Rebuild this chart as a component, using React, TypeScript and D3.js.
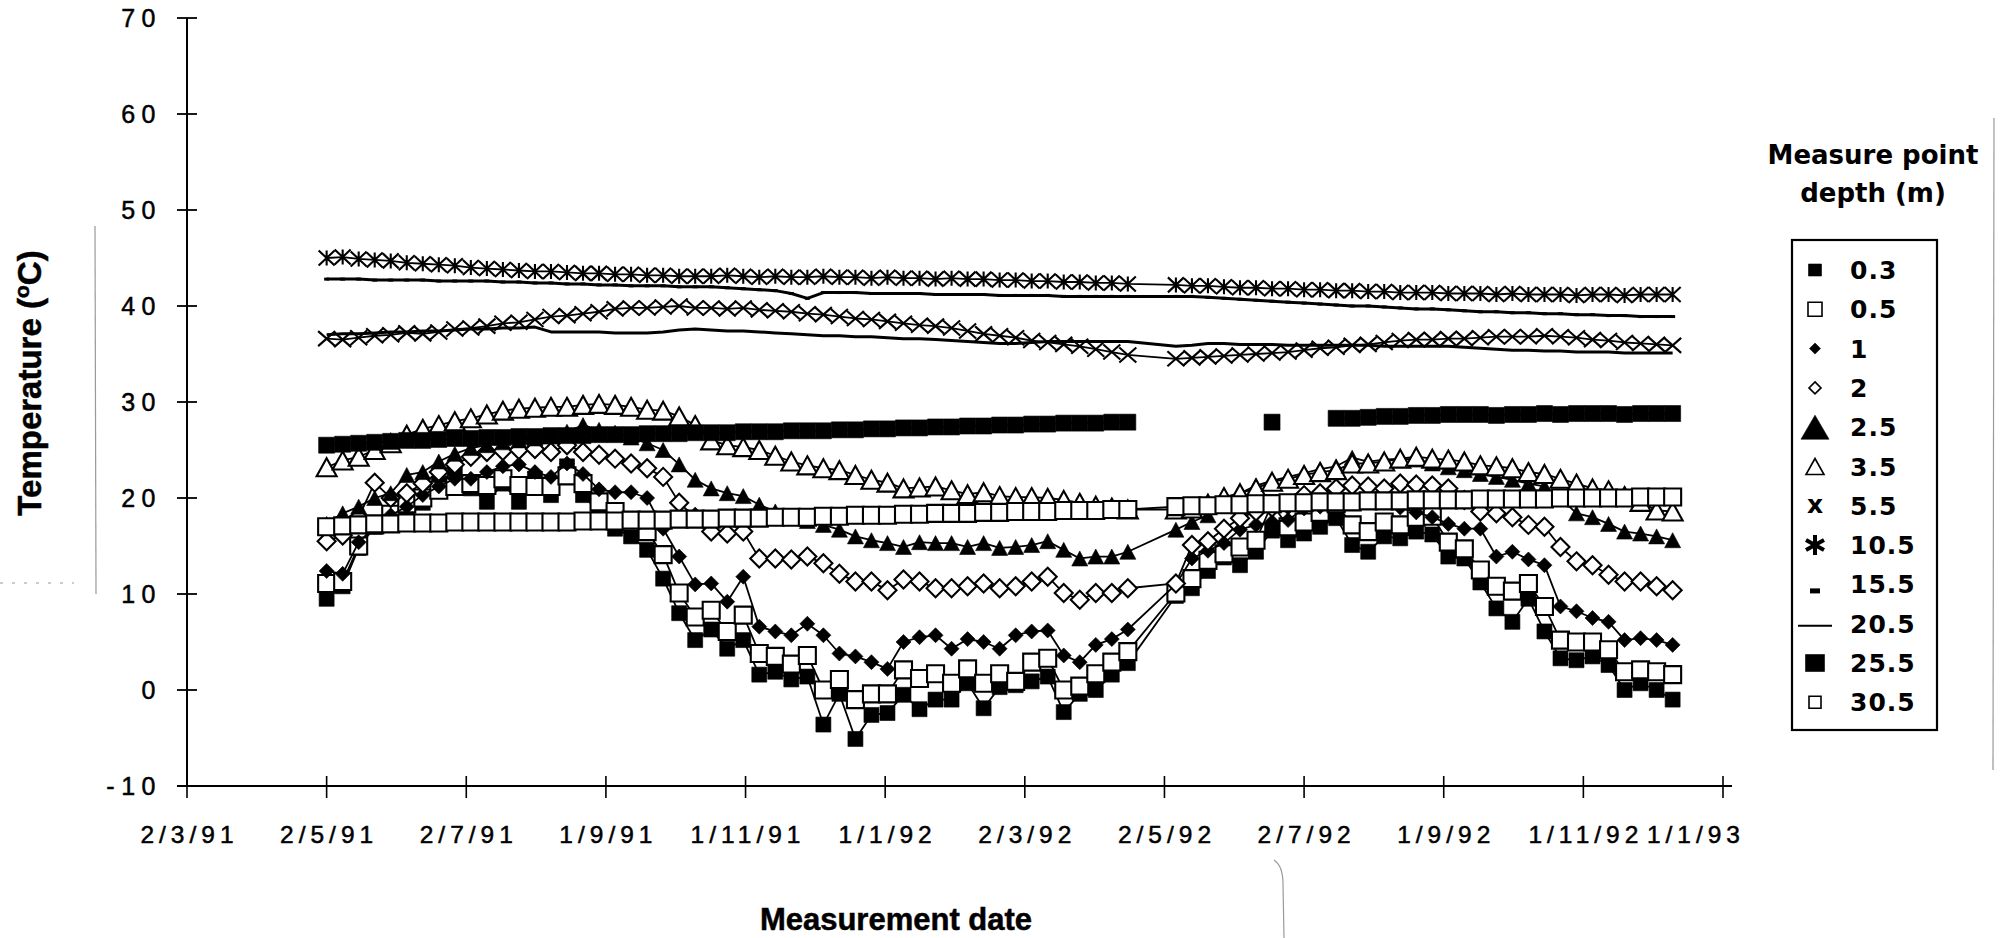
import React from "react";
import * as d3 from "d3";

// Weekly reading dates (no readings on 23 and 30 April 1992)
const measureDates: string[] = [
  "1991-05-02", "1991-05-09", "1991-05-16", "1991-05-23", "1991-05-30",
  "1991-06-06", "1991-06-13", "1991-06-20", "1991-06-27",
  "1991-07-04", "1991-07-11", "1991-07-18", "1991-07-25",
  "1991-08-01", "1991-08-08", "1991-08-15", "1991-08-22", "1991-08-29",
  "1991-09-05", "1991-09-12", "1991-09-19", "1991-09-26",
  "1991-10-03", "1991-10-10", "1991-10-17", "1991-10-24", "1991-10-31",
  "1991-11-07", "1991-11-14", "1991-11-21", "1991-11-28",
  "1991-12-05", "1991-12-12", "1991-12-19", "1991-12-26",
  "1992-01-02", "1992-01-09", "1992-01-16", "1992-01-23", "1992-01-30",
  "1992-02-06", "1992-02-13", "1992-02-20", "1992-02-27",
  "1992-03-05", "1992-03-12", "1992-03-19", "1992-03-26",
  "1992-04-02", "1992-04-09", "1992-04-16",
  "1992-05-07", "1992-05-14", "1992-05-21", "1992-05-28",
  "1992-06-04", "1992-06-11", "1992-06-18", "1992-06-25",
  "1992-07-02", "1992-07-09", "1992-07-16", "1992-07-23", "1992-07-30",
  "1992-08-06", "1992-08-13", "1992-08-20", "1992-08-27",
  "1992-09-03", "1992-09-10", "1992-09-17", "1992-09-24",
  "1992-10-01", "1992-10-08", "1992-10-15", "1992-10-22", "1992-10-29",
  "1992-11-05", "1992-11-12", "1992-11-19", "1992-11-26",
  "1992-12-03", "1992-12-10",
];

// Temperatures (°C) per measure point depth
const depth03 = [
  9.5, 10.8, 14.8, 17.0, 18.0, 18.8, 19.5, 21.5, 23.0, 21.0,
  19.6, 21.5, 19.6, 22.0, 20.3, 23.3, 20.3, 18.5, 16.8, 16.0,
  14.6, 11.6, 8.0, 5.2, 6.3, 4.3, 5.2, 1.6, 1.9, 1.1,
  1.4, -3.6, -0.4, -5.1, -2.6, -2.4, -0.5, -2.0, -1.0, -1.0,
  0.7, -1.9, 0.3, 0.5, 0.9, 1.4, -2.3, -0.4, 0.0, 1.6,
  2.8,
  9.8, 10.6, 12.4, 13.8, 13.0, 14.4, 16.6, 15.6, 16.3,
  17.0, 17.9, 15.1, 14.4, 16.0, 15.8, 16.5, 16.2, 13.9, 13.7,
  11.2, 8.5, 7.1, 9.5, 6.1, 3.3, 3.1, 3.5, 2.6, 0.0,
  0.7, 0.0, -1.0,
];

const depth05 = [
  11.1, 11.3, 15.0, 17.2, 18.3, 19.4, 20.0, 20.8, 21.2, 21.5,
  21.3, 22.0, 21.3, 21.2, 21.2, 22.3, 21.5, 19.6, 18.6, 17.5,
  16.5, 14.1, 10.1, 7.6, 8.3, 6.1, 7.8, 3.8, 3.5, 2.7,
  3.6, 0.0, 1.1, -1.0, -0.4, -0.4, 2.1, 1.2, 1.7, 0.7,
  2.2, 0.7, 1.7, 0.9, 2.9, 3.3, 0.0, 0.4, 1.7, 2.9,
  4.0,
  10.1, 11.6, 13.5, 14.2, 14.9, 15.6, 19.4, 17.0, 17.5,
  18.5, 19.4, 17.2, 16.5, 17.5, 17.2, 18.0, 18.1, 15.4, 14.7,
  12.5, 10.8, 10.3, 11.1, 8.7, 5.2, 5.0, 5.0, 4.2, 1.9,
  2.1, 1.9, 1.6,
];

const depth1 = [
  12.4, 12.1, 15.4, 17.0, 18.2, 19.1, 20.3, 21.2, 22.0, 22.0,
  22.7, 23.3, 23.5, 22.7, 22.2, 23.6, 22.5, 20.9, 20.6, 20.6,
  20.0, 16.8, 13.9, 11.0, 11.1, 9.2, 11.8, 6.6, 6.1, 5.7,
  6.9, 5.7, 3.8, 3.5, 2.9, 2.2, 5.0, 5.5, 5.7, 4.3,
  5.3, 5.0, 4.3, 5.7, 6.1, 6.2, 3.6, 2.9, 4.7, 5.3,
  6.3,
  11.0, 13.7, 14.5, 15.3, 16.7, 17.2, 17.5, 17.7, 18.9,
  19.1, 19.5, 19.8, 20.0, 19.6, 19.0, 18.5, 18.0, 17.3, 16.8,
  16.8, 13.9, 14.4, 13.6, 13.0, 8.7, 8.2, 7.5, 7.1, 5.2,
  5.4, 5.2, 4.7,
];

const depth2 = [
  15.5, 16.1, 18.0, 21.6, 20.0, 20.5, 21.5, 22.7, 23.5, 24.3,
  24.8, 24.9, 25.0, 25.1, 24.8, 25.5, 24.8, 24.5, 24.1, 23.6,
  23.1, 22.2, 19.5, 18.0, 16.5, 16.3, 16.5, 13.7, 13.7, 13.6,
  13.9, 13.2, 12.1, 11.3, 11.3, 10.4, 11.5, 11.3, 10.6, 10.6,
  10.8, 11.1, 10.6, 10.8, 11.3, 11.8, 10.1, 9.4, 10.1, 10.1,
  10.6,
  11.1, 15.1, 15.5, 16.8, 17.9, 18.6, 19.0, 19.3, 20.3,
  20.5, 21.0, 21.3, 21.2, 21.0, 21.5, 21.4, 21.3, 21.0, 19.8,
  18.6, 18.4, 18.0, 17.2, 17.0, 14.9, 13.4, 13.0, 12.0, 11.3,
  11.3, 10.8, 10.4,
];

const depth25 = [
  17.3, 18.4, 19.1, 20.0, 20.5, 22.4, 22.7, 23.8, 24.6, 25.2,
  25.5, 25.8, 26.0, 26.2, 26.4, 26.9, 27.6, 27.1, 26.8, 26.3,
  25.7, 25.0, 23.5, 21.9, 21.0, 20.5, 20.2, 19.3, 18.6, 18.0,
  17.6, 17.2, 16.7, 16.0, 15.6, 15.3, 14.9, 15.4, 15.3, 15.3,
  14.9, 15.3, 14.8, 14.9, 15.1, 15.5, 14.6, 13.7, 13.9, 13.9,
  14.4,
  16.7, 17.5, 18.2, 19.5, 20.5, 21.3, 21.8, 22.2, 22.6,
  23.0, 23.3, 24.2, 23.8, 24.0, 24.1, 24.0, 23.6, 23.2, 22.9,
  22.5, 22.2, 21.9, 21.5, 21.2, 20.0, 18.4, 18.0, 17.3, 16.5,
  16.3, 16.0, 15.6,
];

const depth35 = [
  23.2, 23.9, 24.3, 25.0, 25.7, 26.6, 27.2, 27.6, 28.0, 28.3,
  28.7, 29.1, 29.3, 29.4, 29.5, 29.5, 29.7, 29.8, 29.7, 29.5,
  29.2, 29.1, 28.5, 27.6, 26.0, 25.5, 25.3, 25.0, 24.4, 23.8,
  23.4, 23.1, 22.9, 22.4, 21.9, 21.6, 21.0, 21.1, 21.2, 20.8,
  20.4, 20.6, 20.2, 20.1, 20.1, 20.0, 19.8, 19.5, 19.2, 19.0,
  18.8,
  18.8, 18.9, 19.4, 20.1, 20.5, 21.0, 21.7, 22.0, 22.4,
  22.7, 22.9, 23.6, 23.6, 23.8, 24.1, 24.3, 24.1, 24.0, 23.8,
  23.4, 23.3, 23.1, 22.7, 22.5, 22.0, 21.5, 21.0, 20.8, 20.2,
  19.6, 18.7, 18.6,
];

const depth55 = [
  36.6, 36.5, 36.7, 36.9, 37.0, 37.2, 37.1, 37.3, 37.6, 37.7,
  37.9, 38.2, 38.3, 38.6, 38.9, 39.0, 39.2, 39.4, 39.7, 39.8,
  39.8, 39.9, 40.0, 39.8, 39.8, 39.7, 39.8, 39.6, 39.5, 39.4,
  39.2, 39.1, 38.9, 38.7, 38.6, 38.4, 38.2, 38.0, 37.9, 37.7,
  37.4, 37.1, 36.9, 36.7, 36.4, 36.2, 36.0, 35.8, 35.5, 35.2,
  34.9,
  34.5, 34.6, 34.7, 34.8, 34.9, 35.0, 35.1, 35.2, 35.4,
  35.6, 35.7, 35.9, 36.0, 36.2, 36.4, 36.5, 36.5, 36.6, 36.6,
  36.7, 36.8, 36.8, 36.8, 36.9, 36.8, 36.7, 36.5, 36.4, 36.2,
  36.1, 36.0, 35.9,
];

const depth105 = [
  45.0, 45.1, 44.9, 44.8, 44.7, 44.5, 44.4, 44.3, 44.2, 44.0,
  43.9, 43.8, 43.7, 43.6, 43.6, 43.5, 43.4, 43.4, 43.3, 43.3,
  43.2, 43.2, 43.1, 43.1, 43.1, 43.2, 43.1, 43.0, 43.1, 43.0,
  43.0, 43.1, 43.0, 43.0, 42.9, 43.0, 42.9, 42.9, 42.8, 42.9,
  42.8, 42.8, 42.7, 42.7, 42.6, 42.6, 42.5, 42.5, 42.4, 42.4,
  42.3,
  42.2, 42.1, 42.1, 42.0, 41.9, 41.9, 41.8, 41.8, 41.7,
  41.7, 41.6, 41.6, 41.5, 41.5, 41.4, 41.4, 41.4, 41.3, 41.3,
  41.3, 41.2, 41.3, 41.2, 41.2, 41.2, 41.1, 41.2, 41.2, 41.1,
  41.2, 41.2, 41.2,
];

const depth155 = [
  42.8, 42.8, 42.8, 42.7, 42.7, 42.7, 42.7, 42.6, 42.6, 42.6,
  42.6, 42.5, 42.5, 42.4, 42.4, 42.3, 42.3, 42.2, 42.2, 42.1,
  42.1, 42.1, 42.0, 42.0, 42.0, 41.9, 41.8, 41.7, 41.6, 41.3,
  40.8, 41.4, 41.4, 41.4, 41.3, 41.3, 41.3, 41.3, 41.2, 41.2,
  41.2, 41.2, 41.1, 41.1, 41.1, 41.1, 41.0, 41.0, 41.0, 41.0,
  41.0,
  41.0, 41.0, 40.9, 40.8, 40.7, 40.6, 40.5, 40.4, 40.3,
  40.2, 40.1, 40.0, 40.0, 39.9, 39.8, 39.7, 39.7, 39.6, 39.5,
  39.4, 39.4, 39.3, 39.3, 39.2, 39.2, 39.1, 39.1, 39.0, 39.0,
  38.9, 38.9, 38.9,
];

const depth205 = [
  37.0, 37.1, 37.1, 37.2, 37.3, 37.3, 37.4, 37.4, 37.5, 37.6,
  37.6, 37.7, 37.7, 37.8, 37.3, 37.3, 37.3, 37.3, 37.2, 37.2,
  37.2, 37.3, 37.5, 37.6, 37.5, 37.4, 37.4, 37.3, 37.2, 37.1,
  37.0, 36.9, 36.9, 36.8, 36.8, 36.7, 36.6, 36.6, 36.5, 36.4,
  36.3, 36.2, 36.1, 36.1, 36.2, 36.3, 36.3, 36.3, 36.3, 36.3,
  36.3,
  35.8, 35.9, 36.1, 36.1, 36.0, 36.0, 36.0, 35.9, 35.9,
  35.9, 35.9, 35.9, 35.9, 35.8, 35.8, 35.8, 35.8, 35.8, 35.7,
  35.6, 35.5, 35.4, 35.4, 35.3, 35.3, 35.2, 35.2, 35.2, 35.1,
  35.1, 35.1, 35.1,
];

const depth255: (number | null)[] = [
  25.5, 25.6, 25.7, 25.8, 25.9, 26.0, 26.0, 26.1, 26.2, 26.2,
  26.3, 26.3, 26.4, 26.4, 26.5, 26.5, 26.5, 26.6, 26.6, 26.6,
  26.7, 26.7, 26.7, 26.8, 26.8, 26.8, 26.9, 26.9, 26.9, 27.0,
  27.0, 27.0, 27.1, 27.1, 27.2, 27.2, 27.3, 27.3, 27.4, 27.4,
  27.5, 27.5, 27.6, 27.6, 27.7, 27.7, 27.8, 27.8, 27.8, 27.9,
  27.9,
  null, null, null, null, null, null, 27.9, null, null,
  null, 28.3, 28.3, 28.4, 28.5, 28.5, 28.6, 28.6, 28.7, 28.7,
  28.7, 28.6, 28.7, 28.7, 28.8, 28.7, 28.8, 28.8, 28.8, 28.7,
  28.8, 28.8, 28.8,
];

const depth305 = [
  17.0, 17.1, 17.2, 17.3, 17.3, 17.4, 17.4, 17.4, 17.5, 17.5,
  17.5, 17.5, 17.5, 17.5, 17.5, 17.5, 17.6, 17.6, 17.6, 17.7,
  17.7, 17.7, 17.8, 17.8, 17.8, 17.9, 17.9, 17.9, 18.0, 18.0,
  18.0, 18.1, 18.1, 18.2, 18.2, 18.2, 18.3, 18.3, 18.4, 18.4,
  18.4, 18.5, 18.5, 18.6, 18.6, 18.6, 18.7, 18.7, 18.7, 18.8,
  18.8,
  19.1, 19.2, 19.2, 19.3, 19.3, 19.4, 19.4, 19.5, 19.5,
  19.6, 19.6, 19.6, 19.7, 19.7, 19.7, 19.8, 19.8, 19.8, 19.8,
  19.9, 19.9, 19.9, 19.9, 19.9, 20.0, 20.0, 20.0, 20.0, 20.0,
  20.1, 20.1, 20.1,
];

// Axis ticks
const xTickDates = [
  "1991-03-02", "1991-05-02", "1991-07-02", "1991-09-01", "1991-11-01", "1992-01-01",
  "1992-03-02", "1992-05-02", "1992-07-02", "1992-09-01", "1992-11-01", "1993-01-01",
];
const xTickLabels = [
  "2/3/91", "2/5/91", "2/7/91", "1/9/91", "1/11/91", "1/1/92",
  "2/3/92", "2/5/92", "2/7/92", "1/9/92", "1/11/92", "1/1/93",
];
const yTicks = [-10, 0, 10, 20, 30, 40, 50, 60, 70];

type Kind = "sq" | "osq" | "dia" | "odia" | "tri" | "otri" | "x" | "ast" | "dash" | "none";

interface SeriesDef {
  label: string;
  values: (number | null)[];
  kind: Kind;
  w: number;
  h: number;
  lineWidth: number;
  legendKind: Kind | "xchar" | "line";
  lw: number;
  lh: number;
}

const seriesDefs: SeriesDef[] = [
  { label: "0.3", values: depth03, kind: "sq", w: 15, h: 15, lineWidth: 1.8, legendKind: "sq", lw: 13, lh: 12 },
  { label: "0.5", values: depth05, kind: "osq", w: 17, h: 17, lineWidth: 1.8, legendKind: "osq", lw: 14, lh: 14 },
  { label: "1", values: depth1, kind: "dia", w: 15, h: 15, lineWidth: 1.8, legendKind: "dia", lw: 11, lh: 11 },
  { label: "2", values: depth2, kind: "odia", w: 18, h: 18, lineWidth: 1.8, legendKind: "odia", lw: 12, lh: 12 },
  { label: "2.5", values: depth25, kind: "tri", w: 16, h: 15, lineWidth: 1.8, legendKind: "tri", lw: 28, lh: 24 },
  { label: "3.5", values: depth35, kind: "otri", w: 20, h: 18, lineWidth: 1.8, legendKind: "otri", lw: 18, lh: 16 },
  { label: "5.5", values: depth55, kind: "x", w: 17, h: 15, lineWidth: 1.8, legendKind: "xchar", lw: 0, lh: 0 },
  { label: "10.5", values: depth105, kind: "ast", w: 16, h: 15, lineWidth: 1.8, legendKind: "ast", lw: 20, lh: 20 },
  { label: "15.5", values: depth155, kind: "dash", w: 5, h: 0, lineWidth: 3, legendKind: "dash", lw: 10, lh: 5 },
  { label: "20.5", values: depth205, kind: "none", w: 0, h: 0, lineWidth: 3, legendKind: "line", lw: 34, lh: 0 },
  { label: "25.5", values: depth255, kind: "sq", w: 16, h: 16, lineWidth: 1.8, legendKind: "sq", lw: 19, lh: 17 },
  { label: "30.5", values: depth305, kind: "osq", w: 17, h: 17, lineWidth: 1.8, legendKind: "osq", lw: 12, lh: 12 },
];

const utc = (s: string) => new Date(s + "T00:00:00Z");

function markerPath(kind: string, w: number, h: number): string {
  const a = w / 2;
  const b = h / 2;
  switch (kind) {
    case "sq":
    case "osq":
      return `M${-a},${-b}H${a}V${b}H${-a}Z`;
    case "dia":
    case "odia":
      return `M0,${-b}L${a},0L0,${b}L${-a},0Z`;
    case "tri":
    case "otri":
      return `M0,${-b}L${a},${b}L${-a},${b}Z`;
    case "x":
      return `M${-a},${-b}L${a},${b}M${-a},${b}L${a},${-b}`;
    case "ast":
      return `M${-a},${-b}L${a},${b}M${-a},${b}L${a},${-b}M0,${-b}V${b}`;
    case "dash":
      return `M${-a},0H${a}`;
    default:
      return "";
  }
}

function markerStyle(kind: string, sw = 2) {
  if (kind === "sq" || kind === "dia" || kind === "tri") return { fill: "#000", stroke: "#000", strokeWidth: 0.6 };
  if (kind === "osq" || kind === "odia" || kind === "otri") return { fill: "#fff", stroke: "#000", strokeWidth: sw };
  return { fill: "none", stroke: "#000", strokeWidth: sw };
}

const FONT = "'Liberation Sans', Arial, Helvetica, sans-serif";
const LEGEND_FONT = "'DejaVu Sans', Verdana, sans-serif";

export default function App() {
  const dates = measureDates.map(utc);
  const x = d3.scaleUtc().domain([utc("1991-03-02"), utc("1993-01-01")]).range([187, 1723]);
  const y = d3.scaleLinear().domain([-10, 70]).range([786, 18]);

  const line = d3
    .line<{ d: Date; v: number | null }>()
    .defined((p) => p.v != null)
    .x((p) => x(p.d))
    .y((p) => y(p.v as number));

  const legendX = 1815;
  const legendY0 = 270;
  const legendStep = 39.3;
  const lastTick = xTickDates.length - 1;

  return (
    <svg
      width={2011}
      height={938}
      style={{ position: "absolute", left: 0, top: 0, background: "#fff" }}
    >
      <rect x={0} y={0} width={2011} height={938} fill="#fff" />

      {/* faint page marks */}
      <g stroke="#9a9a9a" strokeWidth={1.2} fill="none">
        <line x1={95} y1={226} x2={96} y2={594} />
        <line x1={1994} y1={118} x2={1993} y2={770} />
        <path d="M1274,860 Q1283,866 1283,884 L1284,938" />
        <path d="M0,583 H74" strokeDasharray="3 9" />
      </g>

      {/* series */}
      {seriesDefs.map((s) => {
        const pts = s.values.map((v, i) => ({ d: dates[i], v }));
        return (
          <g key={s.label}>
            <path d={line(pts) || ""} fill="none" stroke="#000" strokeWidth={s.lineWidth} strokeLinejoin="round" />
            {s.kind !== "none" &&
              pts
                .filter((p) => p.v != null)
                .map((p, i) => (
                  <path
                    key={i}
                    transform={`translate(${x(p.d)},${y(p.v as number)})`}
                    d={markerPath(s.kind, s.w, s.h)}
                    {...markerStyle(s.kind, s.kind === "dash" ? 3 : 2.1)}
                  />
                ))}
          </g>
        );
      })}

      {/* y axis */}
      <g stroke="#000">
        <line x1={187} y1={y(70)} x2={187} y2={y(-10)} strokeWidth={2} />
        {yTicks.map((t) => (
          <line key={t} x1={177} x2={197} y1={y(t)} y2={y(t)} strokeWidth={1.8} />
        ))}
      </g>
      {yTicks.map((t) => (
        <text
          key={t}
          x={162}
          y={y(t)}
          dy="0.36em"
          textAnchor="end"
          fontFamily={FONT}
          fontSize={25}
          letterSpacing={6.5}
          fill="#000"
          stroke="#000"
          strokeWidth={0.5}
        >
          {String(t)}
        </text>
      ))}

      {/* x axis */}
      <g stroke="#000">
        <line x1={177} y1={y(-10)} x2={1732} y2={y(-10)} strokeWidth={2} />
        {xTickDates.map((t) => (
          <line key={t} x1={x(utc(t))} x2={x(utc(t))} y1={776} y2={798} strokeWidth={1.6} />
        ))}
      </g>
      {xTickDates.map((t, i) => (
        <text
          key={t}
          x={i === lastTick ? 1745 : x(utc(t)) + 2.5}
          y={843}
          textAnchor={i === lastTick ? "end" : "middle"}
          fontFamily={FONT}
          fontSize={24.5}
          letterSpacing={5}
          fill="#000"
          stroke="#000"
          strokeWidth={0.5}
        >
          {xTickLabels[i]}
        </text>
      ))}

      {/* axis titles */}
      <text
        transform="translate(41,383) rotate(-90)"
        textAnchor="middle"
        fontFamily={FONT}
        fontWeight="bold"
        fontSize={33}
        fill="#000"
        stroke="#000"
        strokeWidth={0.5}
      >
        Temperature (<tspan dy={-12} fontSize={21}>o</tspan>
        <tspan dy={12}>C)</tspan>
      </text>
      <text
        x={896}
        y={930}
        textAnchor="middle"
        fontFamily={FONT}
        fontWeight="bold"
        fontSize={31}
        fill="#000"
        stroke="#000"
        strokeWidth={0.5}
      >
        Measurement date
      </text>

      {/* legend */}
      <text x={1873} y={164} textAnchor="middle" fontFamily={LEGEND_FONT} fontWeight="bold" fontSize={26} fill="#000">
        Measure point
      </text>
      <text x={1873} y={202} textAnchor="middle" fontFamily={LEGEND_FONT} fontWeight="bold" fontSize={26} fill="#000">
        depth (m)
      </text>
      <rect x={1792} y={240} width={145} height={490} fill="#fff" stroke="#000" strokeWidth={2.2} />
      {seriesDefs.map((s, i) => {
        const cy = legendY0 + i * legendStep;
        let glyph: React.ReactNode = null;
        if (s.legendKind === "xchar") {
          glyph = (
            <text x={legendX} y={cy} dy="0.3em" textAnchor="middle" fontFamily={LEGEND_FONT} fontWeight="bold" fontSize={25}>
              x
            </text>
          );
        } else if (s.legendKind === "line") {
          glyph = <line x1={legendX - 17} x2={legendX + 17} y1={cy + 2} y2={cy + 2} stroke="#000" strokeWidth={2} />;
        } else if (s.legendKind === "ast") {
          glyph = (
            <path
              transform={`translate(${legendX},${cy})`}
              d="M0,-10V10M-9,-5L9,5M-9,5L9,-5"
              stroke="#000"
              strokeWidth={4}
              fill="none"
            />
          );
        } else if (s.legendKind === "dash") {
          glyph = <rect x={legendX - 5} y={cy + 4} width={10} height={5} fill="#000" />;
        } else {
          glyph = (
            <path
              transform={`translate(${legendX},${cy})`}
              d={markerPath(s.legendKind, s.lw, s.lh)}
              {...markerStyle(s.legendKind, 1.6)}
            />
          );
        }
        return (
          <g key={s.label}>
            {glyph}
            <text
              x={1850}
              y={cy}
              dy="0.36em"
              fontFamily={LEGEND_FONT}
              fontWeight="bold"
              fontSize={25}
              letterSpacing={1}
              fill="#000"
            >
              {s.label}
            </text>
          </g>
        );
      })}
    </svg>
  );
}
